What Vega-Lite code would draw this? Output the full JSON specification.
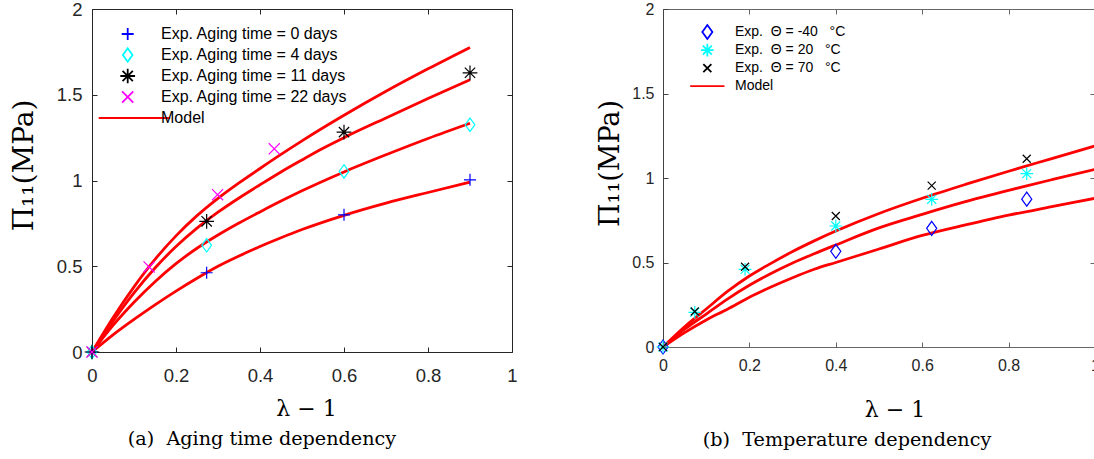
{
  "$schema": "https://vega.github.io/schema/vega-lite/v6.json",
  "background": "white",
  "padding": {"left": 10, "top": 0, "right": -5, "bottom": 0},
  "spacing": 151,
  "bounds": "flush",
  "resolve": {
    "scale": {"color": "independent", "shape": "independent", "size": "independent"},
    "legend": {"color": "independent", "shape": "independent", "size": "independent"}
  },
  "config": {
    "view": {"stroke": null},
    "axis": {"grid": false, "labelFont": "Liberation Sans", "titleFont": "DejaVu Serif", "titleFontWeight": "normal", "titleColor": "#000000", "labelFlush": false},
    "title": {"font": "DejaVu Serif", "fontWeight": "normal", "color": "#000000", "orient": "bottom", "anchor": "middle", "frame": "group"},
    "legend": {"labelLimit": 400}
  },
  "datasets": {
    "leftModel": [
      {"curve": "T", "x": 0, "y": 0}, {"curve": "T", "x": 0.05, "y": 0.2}, {"curve": "T", "x": 0.1, "y": 0.38}, {"curve": "T", "x": 0.15, "y": 0.54}, {"curve": "T", "x": 0.2, "y": 0.677}, {"curve": "T", "x": 0.25, "y": 0.795}, {"curve": "T", "x": 0.3, "y": 0.896}, {"curve": "T", "x": 0.35, "y": 0.986}, {"curve": "T", "x": 0.4, "y": 1.07}, {"curve": "T", "x": 0.45, "y": 1.152}, {"curve": "T", "x": 0.5, "y": 1.231}, {"curve": "T", "x": 0.6, "y": 1.38}, {"curve": "T", "x": 0.7, "y": 1.52}, {"curve": "T", "x": 0.8, "y": 1.651}, {"curve": "T", "x": 0.9, "y": 1.776},
      {"curve": "S", "x": 0, "y": 0}, {"curve": "S", "x": 0.05, "y": 0.18}, {"curve": "S", "x": 0.1, "y": 0.345}, {"curve": "S", "x": 0.15, "y": 0.49}, {"curve": "S", "x": 0.2, "y": 0.615}, {"curve": "S", "x": 0.25, "y": 0.722}, {"curve": "S", "x": 0.3, "y": 0.815}, {"curve": "S", "x": 0.35, "y": 0.898}, {"curve": "S", "x": 0.4, "y": 0.975}, {"curve": "S", "x": 0.45, "y": 1.05}, {"curve": "S", "x": 0.5, "y": 1.12}, {"curve": "S", "x": 0.55, "y": 1.188}, {"curve": "S", "x": 0.6, "y": 1.25}, {"curve": "S", "x": 0.7, "y": 1.365}, {"curve": "S", "x": 0.8, "y": 1.478}, {"curve": "S", "x": 0.9, "y": 1.587},
      {"curve": "R", "x": 0, "y": 0}, {"curve": "R", "x": 0.05, "y": 0.155}, {"curve": "R", "x": 0.1, "y": 0.29}, {"curve": "R", "x": 0.15, "y": 0.41}, {"curve": "R", "x": 0.2, "y": 0.515}, {"curve": "R", "x": 0.25, "y": 0.605}, {"curve": "R", "x": 0.3, "y": 0.682}, {"curve": "R", "x": 0.35, "y": 0.752}, {"curve": "R", "x": 0.4, "y": 0.817}, {"curve": "R", "x": 0.45, "y": 0.88}, {"curve": "R", "x": 0.5, "y": 0.94}, {"curve": "R", "x": 0.6, "y": 1.05}, {"curve": "R", "x": 0.7, "y": 1.15}, {"curve": "R", "x": 0.8, "y": 1.245}, {"curve": "R", "x": 0.9, "y": 1.334},
      {"curve": "F", "x": 0, "y": 0}, {"curve": "F", "x": 0.05, "y": 0.1}, {"curve": "F", "x": 0.1, "y": 0.19}, {"curve": "F", "x": 0.15, "y": 0.275}, {"curve": "F", "x": 0.2, "y": 0.355}, {"curve": "F", "x": 0.25, "y": 0.43}, {"curve": "F", "x": 0.3, "y": 0.5}, {"curve": "F", "x": 0.35, "y": 0.56}, {"curve": "F", "x": 0.4, "y": 0.615}, {"curve": "F", "x": 0.45, "y": 0.666}, {"curve": "F", "x": 0.5, "y": 0.714}, {"curve": "F", "x": 0.6, "y": 0.797}, {"curve": "F", "x": 0.7, "y": 0.868}, {"curve": "F", "x": 0.8, "y": 0.93}, {"curve": "F", "x": 0.9, "y": 0.99}
    ],
    "leftExp": [
      {"series": "Exp. Aging time = 0 days", "x": 0, "y": 0}, {"series": "Exp. Aging time = 0 days", "x": 0.273, "y": 0.462}, {"series": "Exp. Aging time = 0 days", "x": 0.6, "y": 0.8}, {"series": "Exp. Aging time = 0 days", "x": 0.9, "y": 1.004},
      {"series": "Exp. Aging time = 4 days", "x": 0, "y": 0}, {"series": "Exp. Aging time = 4 days", "x": 0.273, "y": 0.622}, {"series": "Exp. Aging time = 4 days", "x": 0.6, "y": 1.053}, {"series": "Exp. Aging time = 4 days", "x": 0.9, "y": 1.325},
      {"series": "Exp. Aging time = 11 days", "x": 0, "y": 0}, {"series": "Exp. Aging time = 11 days", "x": 0.273, "y": 0.762}, {"series": "Exp. Aging time = 11 days", "x": 0.6, "y": 1.282}, {"series": "Exp. Aging time = 11 days", "x": 0.9, "y": 1.628},
      {"series": "Exp. Aging time = 22 days", "x": 0, "y": 0}, {"series": "Exp. Aging time = 22 days", "x": 0.136, "y": 0.496}, {"series": "Exp. Aging time = 22 days", "x": 0.299, "y": 0.917}, {"series": "Exp. Aging time = 22 days", "x": 0.434, "y": 1.185}
    ],
    "rightModel": [
      {"curve": "P", "x": 0, "y": 0}, {"curve": "P", "x": 0.05, "y": 0.12}, {"curve": "P", "x": 0.1, "y": 0.225}, {"curve": "P", "x": 0.15, "y": 0.33}, {"curve": "P", "x": 0.2, "y": 0.42}, {"curve": "P", "x": 0.25, "y": 0.495}, {"curve": "P", "x": 0.3, "y": 0.565}, {"curve": "P", "x": 0.35, "y": 0.628}, {"curve": "P", "x": 0.4, "y": 0.686}, {"curve": "P", "x": 0.5, "y": 0.79}, {"curve": "P", "x": 0.6, "y": 0.88}, {"curve": "P", "x": 0.7, "y": 0.962}, {"curve": "P", "x": 0.8, "y": 1.04}, {"curve": "P", "x": 0.9, "y": 1.115}, {"curve": "P", "x": 1.0, "y": 1.19},
      {"curve": "Q", "x": 0, "y": 0}, {"curve": "Q", "x": 0.05, "y": 0.105}, {"curve": "Q", "x": 0.1, "y": 0.195}, {"curve": "Q", "x": 0.15, "y": 0.285}, {"curve": "Q", "x": 0.2, "y": 0.365}, {"curve": "Q", "x": 0.25, "y": 0.435}, {"curve": "Q", "x": 0.3, "y": 0.497}, {"curve": "Q", "x": 0.35, "y": 0.552}, {"curve": "Q", "x": 0.4, "y": 0.604}, {"curve": "Q", "x": 0.5, "y": 0.705}, {"curve": "Q", "x": 0.6, "y": 0.785}, {"curve": "Q", "x": 0.7, "y": 0.86}, {"curve": "Q", "x": 0.8, "y": 0.927}, {"curve": "Q", "x": 0.9, "y": 0.99}, {"curve": "Q", "x": 1.0, "y": 1.051},
      {"curve": "B", "x": 0, "y": 0}, {"curve": "B", "x": 0.05, "y": 0.085}, {"curve": "B", "x": 0.1, "y": 0.16}, {"curve": "B", "x": 0.15, "y": 0.225}, {"curve": "B", "x": 0.2, "y": 0.295}, {"curve": "B", "x": 0.25, "y": 0.355}, {"curve": "B", "x": 0.3, "y": 0.41}, {"curve": "B", "x": 0.35, "y": 0.46}, {"curve": "B", "x": 0.4, "y": 0.5}, {"curve": "B", "x": 0.5, "y": 0.58}, {"curve": "B", "x": 0.6, "y": 0.66}, {"curve": "B", "x": 0.7, "y": 0.722}, {"curve": "B", "x": 0.8, "y": 0.78}, {"curve": "B", "x": 0.9, "y": 0.83}, {"curve": "B", "x": 1.0, "y": 0.88}
    ],
    "rightExp": [
      {"series": "Exp.\u00a0\u00a0Θ = -40\u00a0\u00a0\u00a0°C", "x": 0, "y": 0}, {"series": "Exp.\u00a0\u00a0Θ = -40\u00a0\u00a0\u00a0°C", "x": 0.4, "y": 0.566}, {"series": "Exp.\u00a0\u00a0Θ = -40\u00a0\u00a0\u00a0°C", "x": 0.622, "y": 0.702}, {"series": "Exp.\u00a0\u00a0Θ = -40\u00a0\u00a0\u00a0°C", "x": 0.842, "y": 0.875},
      {"series": "Exp.\u00a0\u00a0Θ = 20\u00a0\u00a0\u00a0°C", "x": 0, "y": 0}, {"series": "Exp.\u00a0\u00a0Θ = 20\u00a0\u00a0\u00a0°C", "x": 0.0735, "y": 0.205}, {"series": "Exp.\u00a0\u00a0Θ = 20\u00a0\u00a0\u00a0°C", "x": 0.19, "y": 0.459}, {"series": "Exp.\u00a0\u00a0Θ = 20\u00a0\u00a0\u00a0°C", "x": 0.4, "y": 0.716}, {"series": "Exp.\u00a0\u00a0Θ = 20\u00a0\u00a0\u00a0°C", "x": 0.622, "y": 0.874}, {"series": "Exp.\u00a0\u00a0Θ = 20\u00a0\u00a0\u00a0°C", "x": 0.842, "y": 1.026},
      {"series": "Exp.\u00a0\u00a0Θ = 70\u00a0\u00a0\u00a0°C", "x": 0, "y": 0}, {"series": "Exp.\u00a0\u00a0Θ = 70\u00a0\u00a0\u00a0°C", "x": 0.0735, "y": 0.21}, {"series": "Exp.\u00a0\u00a0Θ = 70\u00a0\u00a0\u00a0°C", "x": 0.19, "y": 0.475}, {"series": "Exp.\u00a0\u00a0Θ = 70\u00a0\u00a0\u00a0°C", "x": 0.4, "y": 0.775}, {"series": "Exp.\u00a0\u00a0Θ = 70\u00a0\u00a0\u00a0°C", "x": 0.622, "y": 0.955}, {"series": "Exp.\u00a0\u00a0Θ = 70\u00a0\u00a0\u00a0°C", "x": 0.842, "y": 1.114}
    ]
  },
  "hconcat": [
    {
      "width": 420,
      "height": 343,
      "title": {"text": "(a)\u00a0\u00a0Aging time dependency", "fontSize": 19.2, "offset": 11, "dx": -40},
      "resolve": {"axis": {"x": "independent", "y": "independent"}},
      "layer": [
        {
          "data": {"name": "leftModel"},
          "transform": [{"calculate": "'Model'", "as": "series"}],
          "mark": {"type": "line", "interpolate": "monotone", "strokeWidth": 2.8, "strokeCap": "butt"},
          "encoding": {
            "x": {"field": "x", "type": "quantitative", "scale": {"domain": [0, 1], "nice": false},
              "axis": {"orient": "bottom", "values": [0, 0.2, 0.4, 0.6, 0.8, 1], "format": "~g", "labelFlush": false, "tickSize": -5, "tickColor": "#262626", "domainColor": "#262626", "labelColor": "#262626", "labelPadding": 19, "labelFontSize": 18.5, "title": "λ − 1", "titleFontSize": 22, "titleX": 214, "titleY": 46, "titleBaseline": "top", "titleAlign": "center"}},
            "y": {"field": "y", "type": "quantitative", "scale": {"domain": [0, 2], "nice": false},
              "axis": {"orient": "left", "values": [0, 0.5, 1, 1.5, 2], "format": "~g", "labelFlush": false, "tickSize": -5, "tickColor": "#262626", "domainColor": "#262626", "labelColor": "#262626", "labelPadding": 15, "labelFontSize": 18.5, "title": "Π₁₁(MPa)", "titleFontSize": 28, "titleX": -54, "titleY": 156, "titleAngle": 270, "titleBaseline": "bottom", "titleAlign": "center"}},
            "detail": {"field": "curve"},
            "color": {"field": "series", "type": "nominal",
              "scale": {"domain": ["Exp. Aging time = 0 days", "Exp. Aging time = 4 days", "Exp. Aging time = 11 days", "Exp. Aging time = 22 days", "Model"], "range": ["#0000ff", "#00ffff", "#000000", "#ff00ff", "#ff0000"]},
              "legend": {"title": null, "orient": "none", "legendX": 6.7, "legendY": 14.5, "padding": 0, "labelFont": "Liberation Sans", "labelFontSize": 16, "labelColor": "#000000", "symbolOffset": 19.5, "labelOffset": 23.8, "clipHeight": 21, "rowPadding": 0, "labelLimit": 400, "symbolStrokeWidth": 1.8}}
          }
        },
        {
          "data": {"name": "leftExp"},
          "mark": {"type": "point", "filled": false, "opacity": 1, "strokeWidth": 1.2},
          "encoding": {
            "x": {"field": "x", "type": "quantitative", "axis": {"orient": "top", "values": [0, 0.2, 0.4, 0.6, 0.8, 1], "labels": false, "title": null, "tickSize": -5, "tickColor": "#262626", "domainColor": "#262626"}},
            "y": {"field": "y", "type": "quantitative", "axis": {"orient": "right", "values": [0, 0.5, 1, 1.5, 2], "labels": false, "title": null, "tickSize": -5, "tickColor": "#262626", "domainColor": "#262626"}},
            "color": {"field": "series", "type": "nominal", "legend": {"title": null}},
            "shape": {"field": "series", "type": "nominal",
              "scale": {"domain": ["Exp. Aging time = 0 days", "Exp. Aging time = 4 days", "Exp. Aging time = 11 days", "Exp. Aging time = 22 days", "Model"],
                "range": ["M-1,0L1,0M0,-1L0,1", "M0,-1L0.72,0L0,1L-0.72,0Z", "M-1,0L1,0M0,-1L0,1M-0.7,-0.7L0.7,0.7M-0.7,0.7L0.7,-0.7", "M-0.7,-0.7L0.7,0.7M-0.7,0.7L0.7,-0.7", "M-5,0L5,0"]},
              "legend": {"title": null}},
            "size": {"field": "series", "type": "nominal",
              "scale": {"domain": ["Exp. Aging time = 0 days", "Exp. Aging time = 4 days", "Exp. Aging time = 11 days", "Exp. Aging time = 22 days", "Model"], "range": [144, 289, 121, 165, 144]},
              "legend": {"title": null}}
          }
        }
      ]
    },
    {
      "width": 432,
      "height": 338,
      "title": {"text": "(b)\u00a0\u00a0Temperature dependency", "fontSize": 19.2, "offset": 11, "dx": -32},
      "resolve": {"axis": {"x": "independent", "y": "independent"}},
      "layer": [
        {
          "data": {"name": "rightModel"},
          "transform": [{"calculate": "'Model'", "as": "series"}],
          "mark": {"type": "line", "interpolate": "monotone", "strokeWidth": 2.8, "strokeCap": "butt"},
          "encoding": {
            "x": {"field": "x", "type": "quantitative", "scale": {"domain": [0, 1], "nice": false},
              "axis": {"orient": "bottom", "values": [0, 0.2, 0.4, 0.6, 0.8, 1], "format": "~g", "labelFlush": false, "tickSize": -5, "tickColor": "#666666", "domainColor": "#666666", "labelColor": "#262626", "labelPadding": 15.5, "labelFontSize": 16, "title": "λ − 1", "titleFontSize": 22, "titleX": 231.5, "titleY": 52, "titleBaseline": "top", "titleAlign": "center"}},
            "y": {"field": "y", "type": "quantitative", "scale": {"domain": [0, 2], "nice": false},
              "axis": {"orient": "left", "values": [0, 0.5, 1, 1.5, 2], "format": "~g", "labelFlush": false, "tickSize": -5, "tickColor": "#444444", "domainColor": "#444444", "labelColor": "#262626", "labelPadding": 14, "labelFontSize": 16, "title": "Π₁₁(MPa)", "titleFontSize": 27, "titleX": -39, "titleY": 154, "titleAngle": 270, "titleBaseline": "bottom", "titleAlign": "center"}},
            "detail": {"field": "curve"},
            "color": {"field": "series", "type": "nominal",
              "scale": {"domain": ["Exp.\u00a0\u00a0Θ = -40\u00a0\u00a0\u00a0°C", "Exp.\u00a0\u00a0Θ = 20\u00a0\u00a0\u00a0°C", "Exp.\u00a0\u00a0Θ = 70\u00a0\u00a0\u00a0°C", "Model"], "range": ["#0000ff", "#00ffff", "#000000", "#ff0000"]},
              "legend": {"title": null, "orient": "none", "legendX": 20.7, "legendY": 14.5, "padding": 0, "labelFont": "Liberation Sans", "labelFontSize": 14, "labelColor": "#000000", "symbolOffset": 15.65, "labelOffset": 19.65, "clipHeight": 17.1, "rowPadding": 0, "labelLimit": 400, "symbolStrokeWidth": 1.8}}
          }
        },
        {
          "data": {"name": "rightExp"},
          "mark": {"type": "point", "filled": false, "opacity": 1, "strokeWidth": 1.2},
          "encoding": {
            "x": {"field": "x", "type": "quantitative", "axis": {"orient": "top", "values": [0, 0.2, 0.4, 0.6, 0.8, 1], "labels": false, "title": null, "tickSize": -5, "tickColor": "#666666", "domainColor": "#666666"}},
            "y": {"field": "y", "type": "quantitative", "axis": {"orient": "right", "values": [0, 0.5, 1, 1.5, 2], "labels": false, "title": null, "tickSize": -5, "tickColor": "#666666", "domainColor": "#666666"}},
            "color": {"field": "series", "type": "nominal", "legend": {"title": null}},
            "shape": {"field": "series", "type": "nominal",
              "scale": {"domain": ["Exp.\u00a0\u00a0Θ = -40\u00a0\u00a0\u00a0°C", "Exp.\u00a0\u00a0Θ = 20\u00a0\u00a0\u00a0°C", "Exp.\u00a0\u00a0Θ = 70\u00a0\u00a0\u00a0°C", "Model"],
                "range": ["M0,-1L0.72,0L0,1L-0.72,0Z", "M-1,0L1,0M0,-1L0,1M-0.7,-0.7L0.7,0.7M-0.7,0.7L0.7,-0.7", "M-0.7,-0.7L0.7,0.7M-0.7,0.7L0.7,-0.7", "M-3.43,0L3.43,0"]},
              "legend": {"title": null}},
            "size": {"field": "series", "type": "nominal",
              "scale": {"domain": ["Exp.\u00a0\u00a0Θ = -40\u00a0\u00a0\u00a0°C", "Exp.\u00a0\u00a0Θ = 20\u00a0\u00a0\u00a0°C", "Exp.\u00a0\u00a0Θ = 70\u00a0\u00a0\u00a0°C", "Model"], "range": [196, 100, 130, 196]},
              "legend": {"title": null}}
          }
        }
      ]
    }
  ]
}
